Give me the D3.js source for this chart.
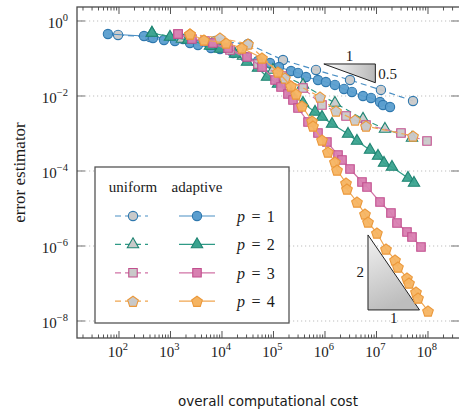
<!DOCTYPE html>
<html>
<head>
<meta charset="utf-8">
<script src="https://cdn.jsdelivr.net/npm/d3@7"></script>
<style>
  body { margin: 0; background: #fff; }
  svg { display: block; }
  .serif { font-family: "Liberation Serif", "DejaVu Serif", serif; }
</style>
</head>
<body>
<div id="plot"></div>
<script>
const W = 459, H = 410;
const plot = { left: 77, right: 459, top: 7, bottom: 338 };

// p = 1
const p1UniformCost = [96, 400, 1750, 7310, 3.2e4, 1.53e5, 6.68e5, 3.06e6, 1.22e7, 5.12e7];
const p1UniformErr  = [0.424, 0.375, 0.331, 0.293, 0.244, 0.0912, 0.0494, 0.0267, 0.0145, 0.00736];
const p1AdaptiveCost = [61, 306, 457, 748, 1220, 2390, 3420, 6110, 9140, 1.64e4, 2.8e4, 5.0e4, 8.55e4,
  1.28e5, 2.19e5, 2.99e5, 4.28e5, 7.31e5, 1.04e6, 1.56e6, 2.34e6, 3.34e6, 5.47e6, 7.82e6, 1.17e7, 1.34e7, 1.83e7];
const p1AdaptiveErr  = [0.45, 0.398, 0.352, 0.311, 0.293, 0.259, 0.229, 0.191, 0.179, 0.14, 0.11, 0.0858, 0.0759,
  0.0593, 0.0464, 0.0411, 0.0321, 0.0267, 0.0236, 0.0197, 0.0154, 0.0128, 0.01, 0.00885, 0.00692, 0.00575, 0.00509];

// p = 2
const p2UniformCost = [437, 1670, 6400, 2.56e4, 9.78e4, 3.74e5, 1.56e6, 5.47e6, 1.46e7, 4.89e7];
const p2UniformErr  = [0.479, 0.331, 0.215, 0.117, 0.0494, 0.0197, 0.00651, 0.00244, 0.00132, 0.000759];
const p2AdaptiveCost = [437, 977, 2190, 5850, 9140, 1.79e4, 3.06e4, 5.0e4, 7.48e4, 1.22e5, 2.19e5, 3.74e5,
  6.4e5, 8.75e5, 1.37e6, 2.8e6, 4.18e6, 7.48e6, 1.07e7, 1.4e7, 2.0e7, 4.09e7, 5.35e7];
const p2AdaptiveErr  = [0.479, 0.375, 0.311, 0.215, 0.179, 0.132, 0.0807, 0.0558, 0.0321, 0.0209, 0.0113, 0.00651,
  0.00375, 0.00275, 0.00179, 0.00097, 0.000631, 0.000363, 0.000251, 0.000163, 0.000128, 6.5e-5, 4.79e-5];

// p = 3
const p3UniformCost = [1400, 4680, 1.43e4, 5.0e4, 1.46e5, 3.74e5, 8.75e5, 2.56e6, 6.25e6, 2.99e7, 9.57e7];
const p3UniformErr  = [0.45, 0.293, 0.169, 0.0714, 0.0341, 0.0163, 0.00575, 0.00293, 0.00169, 0.00103, 0.000631];
const p3AdaptiveCost = [1400, 2610, 6680, 1.31e4, 3.06e4, 5.98e4, 1.07e5, 1.4e5, 1.91e5, 2.39e5, 2.99e5, 4.68e5,
  7.31e5, 1.09e6, 1.79e6, 2.14e6, 3.06e6, 5.23e6, 6.54e6, 1.17e7, 1.91e7, 2.5e7, 3.91e7, 4.89e7, 7.31e7];
const p3AdaptiveErr  = [0.45, 0.331, 0.259, 0.191, 0.11, 0.0593, 0.0267, 0.0174, 0.0113, 0.00782, 0.00479, 0.00203,
  0.00103, 0.000593, 0.000267, 0.000197, 0.000113, 5.09e-5, 3.75e-5, 1.49e-5, 7.59e-6, 4.1e-6, 2.36e-6, 1.74e-6, 9.4e-7];

// p = 4
const p4UniformCost = [2390, 9140, 3.2e4, 1.67e5, 8.0e5, 1.64e6, 3.83e6, 6.25e6, 5.12e7];
const p4UniformErr  = [0.45, 0.352, 0.244, 0.0302, 0.0094, 0.00398, 0.00229, 0.00158, 0.000858];
const p4AdaptiveCost = [2390, 4470, 1.2e4, 2.44e4, 5.98e4, 1.22e5, 2.19e5, 2.74e5, 3.57e5, 5.6e5, 5.85e5, 8.75e5,
  1.14e6, 1.56e6, 1.71e6, 2.56e6, 2.67e6, 4.18e6, 5.98e6, 6.84e6, 1.02e7, 1.53e7, 2.29e7, 2.61e7, 3.91e7, 4.28e7,
  5.85e7, 6.4e7, 1.0e8];
const p4AdaptiveErr  = [0.45, 0.311, 0.259, 0.191, 0.103, 0.0437, 0.0185, 0.0113, 0.00541, 0.00215, 0.00158, 0.000671,
  0.000321, 0.000174, 0.000106, 4.79e-5, 3.31e-5, 1.49e-5, 7.14e-6, 4.37e-6, 2.22e-6, 8.32e-7, 4.24e-7, 2.75e-7,
  1.4e-7, 1.03e-7, 5.93e-8, 4.1e-8, 1.85e-8];

const xMajorTicks = [1e2, 1e3, 1e4, 1e5, 1e6, 1e7, 1e8];
const xTickExponents = ["2", "3", "4", "5", "6", "7", "8"];
const yMajorTicks = [1e0, 1e-2, 1e-4, 1e-6, 1e-8];
const yTickExponents = ["0", "\u22122", "\u22124", "\u22126", "\u22128"];

const degrees = [1, 2, 3, 4];
const legendLabels = ["p = 1", "p = 2", "p = 3", "p = 4"];

// slope triangles (cost, error) of the corner points
const slopeA = { c0: 9.5e5, c1: 9.5e6, e0: 0.0714, e1: 0.0714 / Math.sqrt(10) };
const slopeB = { c0: 6.84e6, c1: 6.84e7, e0: 1.97e-6, e1: 1.97e-8 };

const colors = {
  1: { line: "#4a8fc4", fill: "#5a9ecf", stroke: "#2f78ae" },
  2: { line: "#2f9a86", fill: "#3aa38f", stroke: "#1e8472" },
  3: { line: "#d173a6", fill: "#d880b1", stroke: "#c24f8e" },
  4: { line: "#f0a650", fill: "#f5b462", stroke: "#eb983a" }
};
const uniformFill = "#c9c9c9";

const series = [
  { p: 1, kind: "uniform", cost: p1UniformCost, err: p1UniformErr },
  { p: 1, kind: "adaptive", cost: p1AdaptiveCost, err: p1AdaptiveErr },
  { p: 2, kind: "uniform", cost: p2UniformCost, err: p2UniformErr },
  { p: 2, kind: "adaptive", cost: p2AdaptiveCost, err: p2AdaptiveErr },
  { p: 3, kind: "uniform", cost: p3UniformCost, err: p3UniformErr },
  { p: 3, kind: "adaptive", cost: p3AdaptiveCost, err: p3AdaptiveErr },
  { p: 4, kind: "uniform", cost: p4UniformCost, err: p4UniformErr },
  { p: 4, kind: "adaptive", cost: p4AdaptiveCost, err: p4AdaptiveErr }
];

const x = d3.scaleLog().domain([15.3, 4.0e8]).range([plot.left, plot.right]);
const y = d3.scaleLog().domain([2.36, 3.52e-9]).range([plot.top, plot.bottom]);

const svg = d3.select("#plot").append("svg")
  .attr("width", W).attr("height", H);

const defs = svg.append("defs");
const gA = defs.append("linearGradient").attr("id", "gradA")
  .attr("x1", 0).attr("y1", 0).attr("x2", 1).attr("y2", 0);
gA.append("stop").attr("offset", 0).attr("stop-color", "#ffffff");
gA.append("stop").attr("offset", 1).attr("stop-color", "#b8b8b8");
const gB = defs.append("linearGradient").attr("id", "gradB")
  .attr("x1", 0).attr("y1", 0).attr("x2", 0.3).attr("y2", 1);
gB.append("stop").attr("offset", 0).attr("stop-color", "#f2f2f2");
gB.append("stop").attr("offset", 1).attr("stop-color", "#bdbdbd");

// grid
svg.append("g").selectAll("line").data(yMajorTicks).join("line")
  .attr("x1", plot.left).attr("x2", plot.right)
  .attr("y1", d => y(d)).attr("y2", d => y(d))
  .attr("stroke", "#bdbdbd").attr("stroke-width", 1.2)
  .attr("stroke-dasharray", "1.2,2.8");

// minor + major x ticks
const xMinor = [];
for (let k = 1; k <= 8; k++) {
  for (let m = 2; m <= 9; m++) {
    const v = m * Math.pow(10, k);
    if (v > x.domain()[0] && v < x.domain()[1]) xMinor.push(v);
  }
}
const tickG = svg.append("g").attr("stroke", "#555").attr("stroke-width", 1);
tickG.selectAll(".minb").data(xMinor).join("line")
  .attr("x1", d => x(d)).attr("x2", d => x(d))
  .attr("y1", plot.bottom).attr("y2", plot.bottom - 3.5);
tickG.selectAll(".mint").data(xMinor).join("line")
  .attr("x1", d => x(d)).attr("x2", d => x(d))
  .attr("y1", plot.top).attr("y2", plot.top + 3.5);
tickG.selectAll(".majb").data(xMajorTicks).join("line")
  .attr("x1", d => x(d)).attr("x2", d => x(d))
  .attr("y1", plot.bottom).attr("y2", plot.bottom - 7);
tickG.selectAll(".majt").data(xMajorTicks).join("line")
  .attr("x1", d => x(d)).attr("x2", d => x(d))
  .attr("y1", plot.top).attr("y2", plot.top + 7);
const yTickG = svg.append("g").attr("stroke", "#8a8a8a").attr("stroke-width", 1.2);
yTickG.selectAll(".yl").data(yMajorTicks).join("line")
  .attr("x1", plot.left).attr("x2", plot.left + 8)
  .attr("y1", d => y(d)).attr("y2", d => y(d));
yTickG.selectAll(".yr").data(yMajorTicks).join("line")
  .attr("x1", plot.right - 8).attr("x2", plot.right)
  .attr("y1", d => y(d)).attr("y2", d => y(d));

// frame
svg.append("rect")
  .attr("x", plot.left).attr("y", plot.top)
  .attr("width", plot.right - plot.left + 2).attr("height", plot.bottom - plot.top)
  .attr("fill", "none").attr("stroke", "#4a4a4a").attr("stroke-width", 1.3);

// tick labels
xMajorTicks.forEach((v, i) => {
  const t = svg.append("text").attr("class", "serif")
    .attr("x", x(v) - 1).attr("y", 357)
    .attr("text-anchor", "middle").attr("font-size", 15).attr("fill", "#1a1a1a");
  t.append("tspan").text("10");
  t.append("tspan").attr("dy", -7).attr("font-size", 10.5).text(xTickExponents[i]);
});
yMajorTicks.forEach((v, i) => {
  const t = svg.append("text").attr("class", "serif")
    .attr("x", 68).attr("y", y(v) + 7)
    .attr("text-anchor", "end").attr("font-size", 15).attr("fill", "#1a1a1a");
  t.append("tspan").text("10");
  t.append("tspan").attr("dy", -7).attr("font-size", 10.5).text(yTickExponents[i]);
});

// axis titles
svg.append("text")
  .attr("x", (plot.left + plot.right) / 2).attr("y", 406)
  .attr("text-anchor", "middle")
  .attr("font-family", "'DejaVu Sans', 'Open Sans', sans-serif")
  .attr("font-size", 13.5).attr("fill", "#1a1a1a")
  .text("overall computational cost");
svg.append("text").attr("class", "serif")
  .attr("transform", `translate(25,${(plot.top + plot.bottom) / 2}) rotate(-90)`)
  .attr("text-anchor", "middle")
  .attr("font-size", 17).attr("fill", "#1a1a1a")
  .text("error estimator");

// markers
function pentagonPath(r) {
  const pts = d3.range(5).map(i => {
    const a = -Math.PI / 2 + i * 2 * Math.PI / 5;
    return [r * Math.cos(a), r * Math.sin(a) + 0.6];
  });
  return "M" + pts.map(p => p.join(",")).join("L") + "Z";
}
function markerPath(p) {
  if (p === 1) return d3.symbol(d3.symbolCircle, 68)();
  if (p === 2) return d3.symbol(d3.symbolTriangle, 56)();
  if (p === 3) return d3.symbol(d3.symbolSquare, 72)();
  return pentagonPath(5.6);
}

const line = d3.line().x(d => x(d[0])).y(d => y(d[1]));

// slope triangles (behind data)
function slopeTriangle(s, fillId, corner) {
  const pts = corner === "topRight"
    ? [[s.c0, s.e0], [s.c1, s.e0], [s.c1, s.e1]]
    : [[s.c0, s.e0], [s.c0, s.e1], [s.c1, s.e1]];
  svg.append("path").attr("d", line(pts) + "Z")
    .attr("fill", `url(#${fillId})`).attr("stroke", "#222").attr("stroke-width", 1)
    .attr("stroke-linejoin", "miter");
}
slopeTriangle(slopeA, "gradA", "topRight");
slopeTriangle(slopeB, "gradB", "bottomLeft");

function annot(tx, ty, anchor, str) {
  svg.append("text").attr("class", "serif")
    .attr("x", tx).attr("y", ty).attr("text-anchor", anchor)
    .attr("font-size", 15).attr("fill", "#1a1a1a").text(str);
}
annot((x(slopeA.c0) + x(slopeA.c1)) / 2, y(slopeA.e0) - 3, "middle", "1");
annot(x(slopeA.c1) + 3, y(slopeA.e1) - 4, "start", "0.5");
annot(x(slopeB.c0) - 4, (y(slopeB.e0) + y(slopeB.e1)) / 2 + 5, "end", "2");
annot((x(slopeB.c0) + x(slopeB.c1)) / 2, y(slopeB.e1) + 13, "middle", "1");

// data
series.forEach(s => {
  const c = colors[s.p];
  const pts = s.cost.map((v, i) => [v, s.err[i]]);
  const g = svg.append("g");
  g.append("path").datum(pts)
    .attr("d", line).attr("fill", "none")
    .attr("stroke", c.line).attr("stroke-width", 1.2)
    .attr("stroke-dasharray", s.kind === "uniform" ? "6,4" : null);
  g.selectAll("path.m").data(pts).join("path")
    .attr("class", "m")
    .attr("d", markerPath(s.p))
    .attr("transform", d => `translate(${x(d[0])},${y(d[1])})`)
    .attr("fill", s.kind === "uniform" ? uniformFill : c.fill)
    .attr("fill-opacity", 0.95)
    .attr("stroke", c.stroke).attr("stroke-width", 1.1);
});

// legend
const lg = svg.append("g");
lg.append("rect").attr("x", 95).attr("y", 167).attr("width", 194).attr("height", 156)
  .attr("fill", "#fff").attr("stroke", "#555").attr("stroke-width", 1.3);
lg.append("text").attr("class", "serif").attr("x", 133).attr("y", 192).attr("text-anchor", "middle")
  .attr("font-size", 15).attr("fill", "#1a1a1a").text("uniform");
lg.append("text").attr("class", "serif").attr("x", 197).attr("y", 192).attr("text-anchor", "middle")
  .attr("font-size", 15).attr("fill", "#1a1a1a").text("adaptive");
degrees.forEach((p, i) => {
  const ry = 216 + i * 28.4;
  const c = colors[p];
  lg.append("line").attr("x1", 115).attr("x2", 148).attr("y1", ry).attr("y2", ry)
    .attr("stroke", c.line).attr("stroke-width", 1.2).attr("stroke-dasharray", "6,4");
  lg.append("path").attr("d", markerPath(p)).attr("transform", `translate(133,${ry})`)
    .attr("fill", uniformFill).attr("stroke", c.stroke).attr("stroke-width", 1.1);
  lg.append("line").attr("x1", 179).attr("x2", 215).attr("y1", ry).attr("y2", ry)
    .attr("stroke", c.line).attr("stroke-width", 1.2);
  lg.append("path").attr("d", markerPath(p)).attr("transform", `translate(197,${ry})`)
    .attr("fill", c.fill).attr("stroke", c.stroke).attr("stroke-width", 1.1);
  const t = lg.append("text").attr("class", "serif").attr("x", 237).attr("y", ry + 6)
    .attr("font-size", 16).attr("fill", "#1a1a1a");
  t.append("tspan").attr("font-style", "italic").text("p");
  t.append("tspan").text(legendLabels[i].slice(1).replace(/ /g, "\u2009\u2009"));
});
</script>
</body>
</html>
